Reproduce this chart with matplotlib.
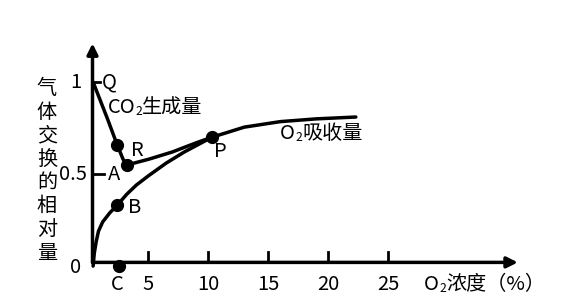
import matplotlib
matplotlib.use("Agg")
import numpy as np
from matplotlib import pyplot as plt
from matplotlib.transforms import offset_copy

plt.rcParams['font.family'] = ['Noto Sans CJK SC', 'DejaVu Sans']

# curve values
co2_x = [0.4, 1.0, 1.6, 2.4, 2.9, 3.25, 5.0, 7.0, 9.0, 10.3, 13.0, 16.0, 19.0, 22.3]
co2_y = [1.0, 0.90, 0.80, 0.66, 0.58, 0.55, 0.58, 0.62, 0.67, 0.70, 0.755, 0.785, 0.80, 0.81]
o2_x = [0.4, 0.5, 0.65, 0.85, 1.2, 1.8, 2.4, 3.2, 4.0, 5.0, 6.5, 8.0, 10.3]
o2_y = [0.0, 0.07, 0.13, 0.19, 0.24, 0.29, 0.33, 0.39, 0.44, 0.49, 0.56, 0.62, 0.70]
dot_x = [2.4, 3.25, 2.4, 10.3, 2.6]
dot_y = [0.66, 0.55, 0.33, 0.70, 0.0]
xtick_vals = [5, 10, 15, 20, 25]
ylabel_chars = list("气体交换的相对量")

fig = plt.figure(figsize=(5.61, 3.06), dpi=100)
ax = fig.add_axes([0, 0, 1, 1])
ax.set_xlim(-7.36, 39.4)
ax.set_ylim(-0.217, 1.446)
ax.axis('off')
fig.canvas.draw()
renderer = fig.canvas.get_renderer()

fs = 14.5


def sub_label(x, y, parts):
    # parts: list of (text, is_subscript); laid out left to right
    dx = 0.0
    for txt, is_sub in parts:
        tr = offset_copy(ax.transData, fig=fig, x=dx, y=-4 if is_sub else 0, units='dots')
        t = ax.text(x, y, txt, ha='left', va='center', transform=tr,
                    fontsize=fs * 0.6 if is_sub else fs)
        dx += t.get_window_extent(renderer).width + (0.5 if is_sub else 0)


x0 = 0.35
lw = 2.5
arr = dict(arrowstyle='-|>', lw=lw, color='black', mutation_scale=16, shrinkA=0, shrinkB=0)
ax.annotate('', xy=(35.8, 0.02), xytext=(x0, 0.02), arrowprops=arr)
ax.annotate('', xy=(x0, 1.21), xytext=(x0, 0.02), arrowprops=arr)

# ticks
for v in xtick_vals:
    ax.plot([v, v], [0.02, 0.075], color='black', lw=2)
    ax.text(v, -0.1, str(v), ha='center', va='center', fontsize=fs)
ax.plot([x0, 1.0], [1.0, 1.0], color='black', lw=2)
ax.plot([x0, 1.3], [0.5, 0.5], color='black', lw=2)

ax.plot(co2_x, co2_y, color='black', lw=lw, solid_capstyle='round', solid_joinstyle='round')
ax.plot(o2_x, o2_y, color='black', lw=lw, solid_capstyle='round', solid_joinstyle='round')
ax.plot(dot_x, dot_y, 'o', color='black', ms=8.5)

ax.text(-0.6, 1.0, '1', ha='right', va='center', fontsize=fs)
ax.text(-0.1, 0.5, '0.5', ha='right', va='center', fontsize=fs)
ax.text(-0.6, -0.01, '0', ha='right', va='center', fontsize=fs)
ax.text(1.75, 1.0, 'Q', ha='center', va='center', fontsize=fs)
ax.text(2.15, 0.5, 'A', ha='center', va='center', fontsize=fs)
ax.text(4.1, 0.63, 'R', ha='center', va='center', fontsize=fs)
ax.text(3.9, 0.32, 'B', ha='center', va='center', fontsize=fs)
ax.text(11.0, 0.62, 'P', ha='center', va='center', fontsize=fs)
ax.text(2.4, -0.1, 'C', ha='center', va='center', fontsize=fs)

sub_label(1.6, 0.86, [('CO', False), ('2', True), ('生成量', False)])
sub_label(16.0, 0.72, [('O', False), ('2', True), ('吸收量', False)])
sub_label(28.0, -0.1, [('O', False), ('2', True), ('浓度（%）', False)])

# vertical y label
for i, ch in enumerate(ylabel_chars):
    ax.text(-3.45, 0.965 - i * 0.128, ch, ha='center', va='center', fontsize=fs)

fig.savefig('out.png', dpi=100)
